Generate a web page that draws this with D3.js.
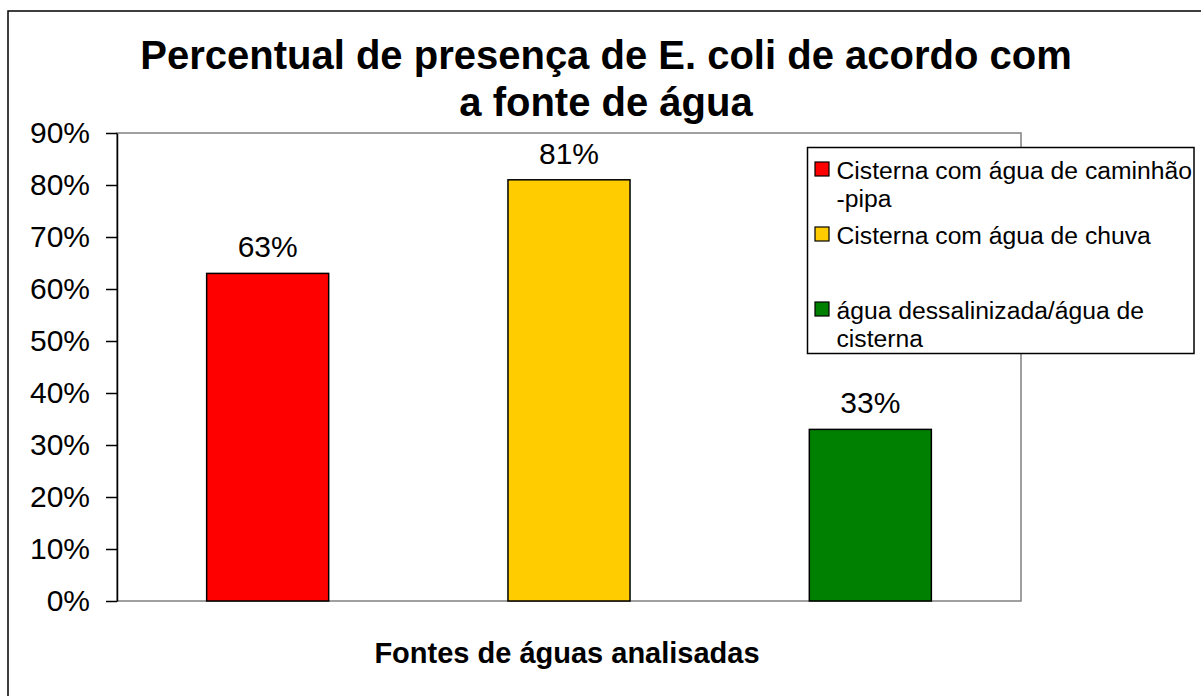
<!DOCTYPE html>
<html>
<head>
<meta charset="utf-8">
<script src="https://cdn.jsdelivr.net/npm/d3@7"></script>
<style>
  html, body { margin: 0; padding: 0; background: #fff; }
  svg { display: block; font-family: "Liberation Sans", Arial, sans-serif; }
</style>
</head>
<body>
<svg id="chart" width="1201" height="696"></svg>
<script>
// ---- data ----
const categories = ["Cisterna com água de caminhão-pipa", "Cisterna com água de chuva", "água dessalinizada/água de cisterna"];
const values = [0.63, 0.81, 0.33];
const valueLabels = ["63%", "81%", "33%"];
const colors = ["#FF0000", "#FFCC00", "#008000"];
const legendLines = [["Cisterna com água de caminhão", "-pipa"], ["Cisterna com água de chuva"], ["água dessalinizada/água de", "cisterna"]];
const yTicks = [0, 0.1, 0.2, 0.3, 0.4, 0.5, 0.6, 0.7, 0.8, 0.9];
const titleLines = ["Percentual de presença de E. coli de acordo com", "a fonte de água"];
const xTitle = "Fontes de águas analisadas";

// ---- layout ----
const svg = d3.select("#chart");
const plot = { left: 117, right: 1021, top: 133, bottom: 601 };

// outer chart frame (right/bottom edges fall outside the picture)
svg.append("rect")
  .attr("x", 8).attr("y", 11).attr("width", 1220).attr("height", 720)
  .attr("fill", "#fff").attr("stroke", "#000").attr("stroke-width", 1.5);

const x = d3.scaleBand().domain(categories)
  .range([plot.left, plot.right]).paddingInner(0.595).paddingOuter(0.2975);
const y = d3.scaleLinear().domain([0, 0.9]).range([plot.bottom, plot.top]);

// plot area border
svg.append("rect")
  .attr("x", plot.left).attr("y", plot.top)
  .attr("width", plot.right - plot.left).attr("height", plot.bottom - plot.top)
  .attr("fill", "#fff").attr("stroke", "#808080").attr("stroke-width", 1.5);

// bars
svg.selectAll("rect.bar").data(categories).join("rect")
  .attr("class", "bar")
  .attr("x", d => x(d))
  .attr("y", (d, i) => y(values[i]))
  .attr("width", x.bandwidth())
  .attr("height", (d, i) => y(0) - y(values[i]))
  .attr("fill", (d, i) => colors[i])
  .attr("stroke", "#000").attr("stroke-width", 1.5);

// value labels
svg.selectAll("text.vlabel").data(categories).join("text")
  .attr("class", "vlabel")
  .attr("x", d => x(d) + x.bandwidth() / 2)
  .attr("y", (d, i) => y(values[i]) - 16)
  .attr("text-anchor", "middle")
  .attr("font-size", 30)
  .attr("fill", "#000")
  .text((d, i) => valueLabels[i]);

// y axis
const yAxis = d3.axisLeft(y).tickValues(yTicks).tickFormat(d3.format(".0%"))
  .tickSizeInner(11).tickSizeOuter(0).tickPadding(16);
const gy = svg.append("g").attr("transform", `translate(${plot.left},0)`).call(yAxis);
gy.select(".domain").attr("stroke", "#000").attr("stroke-width", 1.5);
gy.selectAll(".tick line").attr("stroke", "#000").attr("stroke-width", 1.5);
gy.selectAll(".tick text").attr("font-size", 30).attr("fill", "#000")
  .attr("font-family", "'Liberation Sans', Arial, sans-serif");

// title
svg.append("text")
  .attr("x", 606).attr("y", 69)
  .attr("text-anchor", "middle").attr("font-size", 40).attr("font-weight", "bold")
  .selectAll("tspan").data(titleLines).join("tspan")
  .attr("x", 606).attr("dy", (d, i) => i === 0 ? 0 : 47)
  .text(d => d);

// x axis title
svg.append("text")
  .attr("x", 567).attr("y", 663)
  .attr("text-anchor", "middle").attr("font-size", 29).attr("font-weight", "bold")
  .text(xTitle);

// legend
const leg = { x: 807.5, y: 147.5, w: 386.5, h: 206 };
svg.append("rect")
  .attr("x", leg.x).attr("y", leg.y).attr("width", leg.w).attr("height", leg.h)
  .attr("fill", "#fff").attr("stroke", "#000").attr("stroke-width", 1.5);
const legBaselines = [179, 244, 319];
const lg = svg.selectAll("g.legitem").data(categories).join("g").attr("class", "legitem");
lg.append("rect")
  .attr("x", 815).attr("y", (d, i) => legBaselines[i] - 17)
  .attr("width", 14).attr("height", 14)
  .attr("fill", (d, i) => colors[i]).attr("stroke", "#000").attr("stroke-width", 1.2);
lg.append("text")
  .attr("y", (d, i) => legBaselines[i])
  .attr("font-size", 24.7).attr("fill", "#000")
  .selectAll("tspan").data((d, i) => legendLines[i]).join("tspan")
  .attr("x", 836.5).attr("dy", (d, j) => j === 0 ? 0 : 28)
  .text(d => d);
</script>
</body>
</html>
